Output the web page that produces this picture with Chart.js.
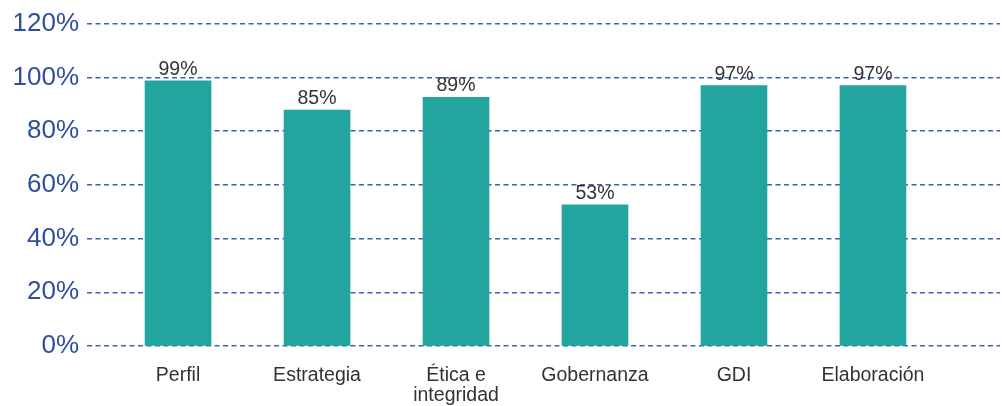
<!DOCTYPE html>
<html lang="es">
<head>
<meta charset="UTF-8">
<title>Resultados por dimensión</title>
<script src="https://cdn.jsdelivr.net/npm/chart.js@4.4.1/dist/chart.umd.min.js"></script>
<style>
  html, body { margin: 0; padding: 0; background: #fff; }
  #wrap { width: 1002px; height: 406px; }
</style>
</head>
<body>
<div id="wrap"><canvas id="myChart"></canvas></div>
<script>
// categories, bar heights and the printed value labels
const categories = ["Perfil", "Estrategia", ["Ética e", "integridad"], "Gobernanza", "GDI", "Elaboración"];
const barValues = [98.7, 87.8, 92.6, 52.5, 96.9, 96.9];
const valueLabels = ["99%", "85%", "89%", "53%", "97%", "97%"];
const yTicks = [0, 20, 40, 60, 80, 100, 120];

const barColor = "#21a59e";
const gridColor = "#3a62b3";

// small plugin: value text above each bar
const valueText = {
  id: "valueText",
  afterDatasetsDraw(chart) {
    const ctx = chart.ctx;
    const meta = chart.getDatasetMeta(0);
    ctx.save();
    ctx.font = "19.5px 'Liberation Sans', Arial, sans-serif";
    ctx.fillStyle = "#333333";
    ctx.textAlign = "center";
    ctx.textBaseline = "alphabetic";
    meta.data.forEach(function(bar, i) {
      ctx.fillText(valueLabels[i], bar.x, bar.y - 6);
    });
    ctx.restore();
  }
};

new Chart("myChart", {
  type: "bar",
  data: {
    datasets: [{
      data: barValues.map(function(v, i) { return {x: i, y: v}; }),
      backgroundColor: barColor,
      borderWidth: 0,
      barThickness: 66
    }]
  },
  options: {
    responsive: true,
    maintainAspectRatio: false,
    animation: false,
    layout: { padding: { top: 14, right: 2, left: 0, bottom: 0 } },
    plugins: {
      legend: { display: false },
      tooltip: { enabled: false }
    },
    scales: {
      x: {
        type: "linear",
        offset: false,
        min: -0.655,
        max: 5.914,
        grid: { display: false },
        border: { display: false },
        afterFit: function(scale) { scale.height = 60; },
        ticks: {
          stepSize: 1,
          includeBounds: false,
          autoSkip: false,
          maxRotation: 0,
          padding: 11,
          color: "#333333",
          font: { family: "'Liberation Sans', Arial, sans-serif", size: 19.5, lineHeight: 1.05 },
          callback: function(value) { return categories[value]; }
        }
      },
      y: {
        min: 0,
        max: 120,
        afterFit: function(scale) { scale.width = 87; },
        afterBuildTicks: function(scale) { scale.ticks = yTicks.map(function(v) { return {value: v}; }); },
        border: { display: false, dash: [5, 3.5] },
        grid: {
          color: gridColor,
          lineWidth: 1.4,
          drawTicks: false
        },
        ticks: {
          padding: 8,
          color: "#2f4f9e",
          font: { family: "'Liberation Sans', Arial, sans-serif", size: 26 },
          callback: function(value) { return value + "%"; }
        }
      }
    }
  },
  plugins: [valueText]
});
</script>
</body>
</html>
